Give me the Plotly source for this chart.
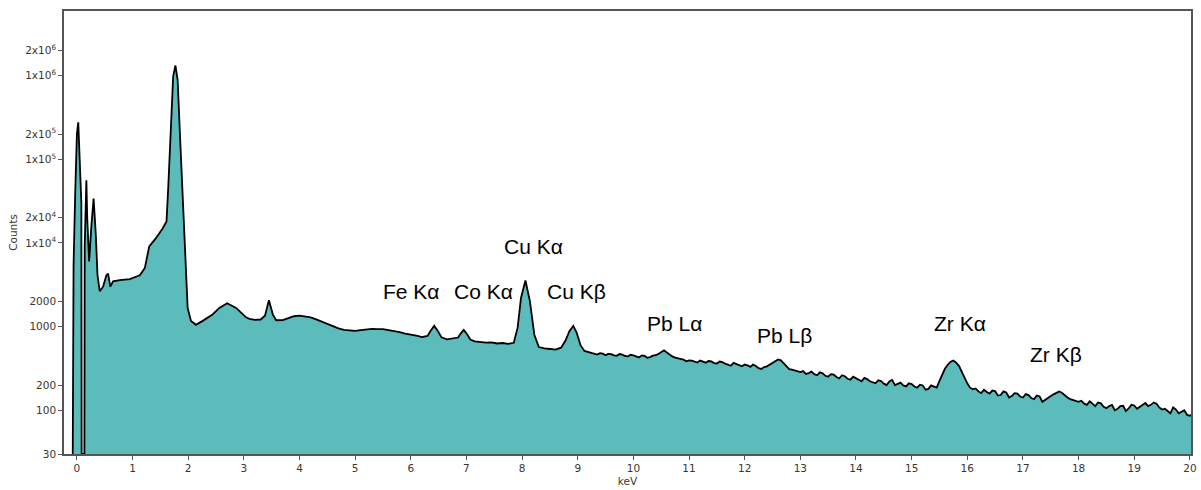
import plotly.graph_objects as go
import math

# Energy (keV) and counts
kev_low = [-0.075, -0.06, -0.03, 0.0, 0.024, 0.045, 0.07, 0.08, 0.085, 0.135, 0.14, 0.17, 0.185,
           0.22, 0.26, 0.30, 0.34, 0.37, 0.41, 0.47, 0.53, 0.56, 0.60, 0.65, 0.77, 0.95, 1.13,
           1.22, 1.30, 1.42, 1.54, 1.61, 1.64, 1.69, 1.73, 1.77, 1.81, 1.85, 1.90, 1.95, 1.99,
           2.05, 2.14, 2.26, 2.43, 2.56, 2.70, 2.86]
counts_low = [30, 5400, 41000, 200000, 277000, 130000, 41000, 30000, 30, 30, 9300, 56000, 20000,
              6000, 16000, 34000, 12300, 4100, 2650, 3000, 4100, 4300, 3000, 3470, 3600, 3700, 4100,
              5000, 9100, 11400, 14900, 18000, 44000, 330000, 980000, 1320000, 890000, 210000, 34000, 5400, 1670,
              1170, 1050, 1170, 1380, 1670, 1900, 1670]

kev_mid = [2.95, 3.04, 3.1, 3.2, 3.3, 3.38, 3.45, 3.52, 3.58, 3.7, 3.8, 3.9, 4.0, 4.1, 4.2, 4.3,
           4.4, 4.5, 4.6, 4.7, 4.8, 4.9, 5.0, 5.1, 5.2, 5.3, 5.4, 5.5, 5.6, 5.7, 5.8, 5.9, 6.0,
           6.1, 6.2, 6.3, 6.36, 6.42, 6.48, 6.55, 6.65, 6.75, 6.85, 6.9, 6.95, 7.0, 7.07, 7.15,
           7.25, 7.35, 7.45, 7.55, 7.65, 7.75, 7.85, 7.92, 7.98, 8.06, 8.14, 8.22, 8.3, 8.4, 8.5,
           8.6, 8.7, 8.78, 8.85, 8.92, 8.98, 9.05, 9.12]
counts_mid = [1480, 1290, 1240, 1200, 1215, 1350, 2070, 1400, 1190, 1195, 1260, 1330, 1350, 1330, 1290, 1220,
              1140, 1080, 1000, 950, 915, 900, 888, 905, 925, 940, 935, 930, 905, 885, 860, 822, 805,
              780, 748, 775, 900, 1020, 900, 745, 705, 718, 740, 830, 910, 830, 700, 665,
              652, 642, 648, 628, 636, 622, 640, 970, 2200, 3560, 2020, 800, 570, 548, 540,
              530, 560, 680, 880, 1020, 850, 600, 512]

kev_high = [9.2, 9.3, 9.4, 9.5, 9.6, 9.7, 9.8, 9.9, 10.0, 10.1, 10.2, 10.3, 10.4, 10.5, 10.55, 10.6,
            10.7, 10.8, 10.9, 11.0, 11.1, 11.2, 11.3, 11.4, 11.5, 11.6, 11.7, 11.8, 11.9, 12.0, 12.1,
            12.2, 12.3, 12.4, 12.5, 12.6, 12.65, 12.7, 12.8, 12.9, 13.0, 13.1, 13.2, 13.3, 13.4, 13.5,
            13.6, 13.7, 13.8, 13.9, 14.0, 14.1, 14.2, 14.3, 14.4, 14.5, 14.6, 14.7, 14.8, 14.9, 15.0,
            15.1, 15.2, 15.3, 15.4, 15.5, 15.6, 15.7, 15.75, 15.8, 15.9, 16.0, 16.1, 16.2, 16.3, 16.4,
            16.5, 16.6, 16.7, 16.8, 16.9, 17.0, 17.1, 17.2, 17.3, 17.4, 17.5, 17.6, 17.7, 17.8, 17.9,
            18.0, 18.1, 18.2, 18.3, 18.4, 18.5, 18.6, 18.7, 18.8, 18.9, 19.0, 19.1, 19.2, 19.3, 19.4,
            19.5, 19.6, 19.7, 19.8, 19.9, 20.0, 20.05]
counts_high = [495, 470, 482, 455, 468, 448, 462, 440, 452, 428, 446, 432, 455, 500, 520, 490,
               440, 418, 402, 395, 378, 392, 370, 383, 362, 376, 352, 368, 345, 352, 330,
               338, 312, 335, 372, 405, 395, 362, 310, 298, 286, 272, 290, 262, 276, 252,
               266, 240, 255, 232, 242, 222, 236, 214, 228, 208, 221, 200, 214, 193, 205,
               186, 198, 180, 192, 225, 315, 380, 392, 370, 290, 210, 178, 168, 176, 158,
               170, 152, 163, 148, 158, 142, 152, 136, 146, 134, 148, 160, 162, 142, 132,
               126, 120, 128, 112, 121, 106, 116, 104, 113, 105, 114, 110, 122, 116, 120,
               102, 98, 108, 92, 100, 86, 90]

# Extra in-between readings of the noisy high-energy tail
kev_tail = [9.25, 9.35, 9.45, 9.55, 9.65, 9.75, 9.85, 9.95, 10.05, 10.15, 10.25, 10.35, 10.45,
            10.65, 10.75, 10.85, 10.95, 11.05, 11.15, 11.25, 11.35, 11.45, 11.55, 11.65, 11.75,
            11.85, 11.95, 12.05, 12.15, 12.25, 12.35, 12.45, 12.55, 12.75, 12.85, 12.95, 13.05,
            13.15, 13.25, 13.35, 13.45, 13.55, 13.65, 13.75, 13.85, 13.95, 14.05, 14.15, 14.25,
            14.35, 14.45, 14.55, 14.65, 14.75, 14.85, 14.95, 15.05, 15.15, 15.25, 15.35, 15.45,
            15.55, 15.65, 15.85, 15.95, 16.05, 16.15, 16.25, 16.35, 16.45, 16.55, 16.65, 16.75,
            16.85, 16.95, 17.05, 17.15, 17.25, 17.35, 17.45, 17.55, 17.65, 17.75, 17.85, 17.95,
            18.05, 18.15, 18.25, 18.35, 18.45, 18.55, 18.65, 18.75, 18.85, 18.95, 19.05, 19.15,
            19.25, 19.35, 19.45, 19.55, 19.65, 19.75, 19.85, 19.95]
counts_tail = [488, 462, 475, 470, 452, 470, 445, 460, 440, 452, 425, 450, 470,
               462, 425, 412, 385, 392, 372, 380, 388, 366, 382, 360, 340,
               358, 336, 345, 352, 318, 328, 352, 390, 335, 305, 290, 294,
               278, 270, 284, 258, 270, 250, 262, 238, 252, 230, 244, 222,
               210, 224, 200, 230, 206, 198, 210, 192, 202, 176, 198, 186,
               270, 350, 340, 240, 186, 182, 160, 165, 172, 150, 168, 142,
               160, 146, 156, 140, 150, 126, 140, 155, 168, 150, 136, 128,
               130, 116, 120, 124, 110, 112, 100, 112, 98, 116, 104, 118,
               112, 124, 108, 104, 92, 102, 96, 88]

pairs = sorted(zip(kev_low + kev_mid + kev_high + kev_tail,
                   counts_low + counts_mid + counts_high + counts_tail))
kev = [p[0] for p in pairs]
counts = [p[1] for p in pairs]

# Axis ticks
y_tickvals = [30, 100, 200, 1000, 2000, 1e4, 2e4, 1e5, 2e5, 1e6, 2e6]
y_ticktext = ["30", "100", "200", "1000", "2000", "1x10<sup>4</sup>", "2x10<sup>4</sup>",
              "1x10<sup>5</sup>", "2x10<sup>5</sup>", "1x10<sup>6</sup>", "2x10<sup>6</sup>"]
x_tickvals = list(range(0, 21))

# Peak labels
peak_labels = ["Fe Kα", "Co Kα", "Cu Kα", "Cu Kβ", "Pb Lα", "Pb Lβ", "Zr Kα", "Zr Kβ"]
label_x = [6.01, 7.31, 8.20, 8.97, 10.74, 12.71, 15.87, 17.60]
label_y = [3.424, 3.424, 3.958, 3.424, 3.033, 2.89, 3.033, 2.665]

fig = go.Figure()
fig.add_trace(go.Scatter(
    x=kev, y=counts, mode="lines", fill="tozeroy",
    fillcolor="#5cbcbc", line=dict(color="black", width=1.8), showlegend=False,
))

tick_font = dict(family="DejaVu Sans", size=10.5, color="#3a3632")
axis_common = dict(showline=True, linecolor="#555555", linewidth=1.5, mirror=True,
                   ticks="outside", ticklen=4, tickcolor="#555555", showgrid=False,
                   zeroline=False, tickfont=tick_font)

fig.update_xaxes(range=[-0.232, 20.02], tickvals=x_tickvals,
                 title=dict(text="keV", font=tick_font, standoff=4), **axis_common)
fig.update_yaxes(type="log", range=[math.log10(30), 6.772], tickvals=y_tickvals,
                 ticktext=y_ticktext, title=dict(text="Counts", font=tick_font, standoff=6),
                 **axis_common)

for t, x, y in zip(peak_labels, label_x, label_y):
    fig.add_annotation(x=x, y=y, xref="x", yref="y", text=t, showarrow=False,
                       font=dict(family="Liberation Sans", size=21, color="black"))

fig.update_layout(width=1201, height=490, autosize=False,
                  margin=dict(l=64, r=4, t=11, b=34),
                  paper_bgcolor="white", plot_bgcolor="white")

fig.write_html("out.html")
